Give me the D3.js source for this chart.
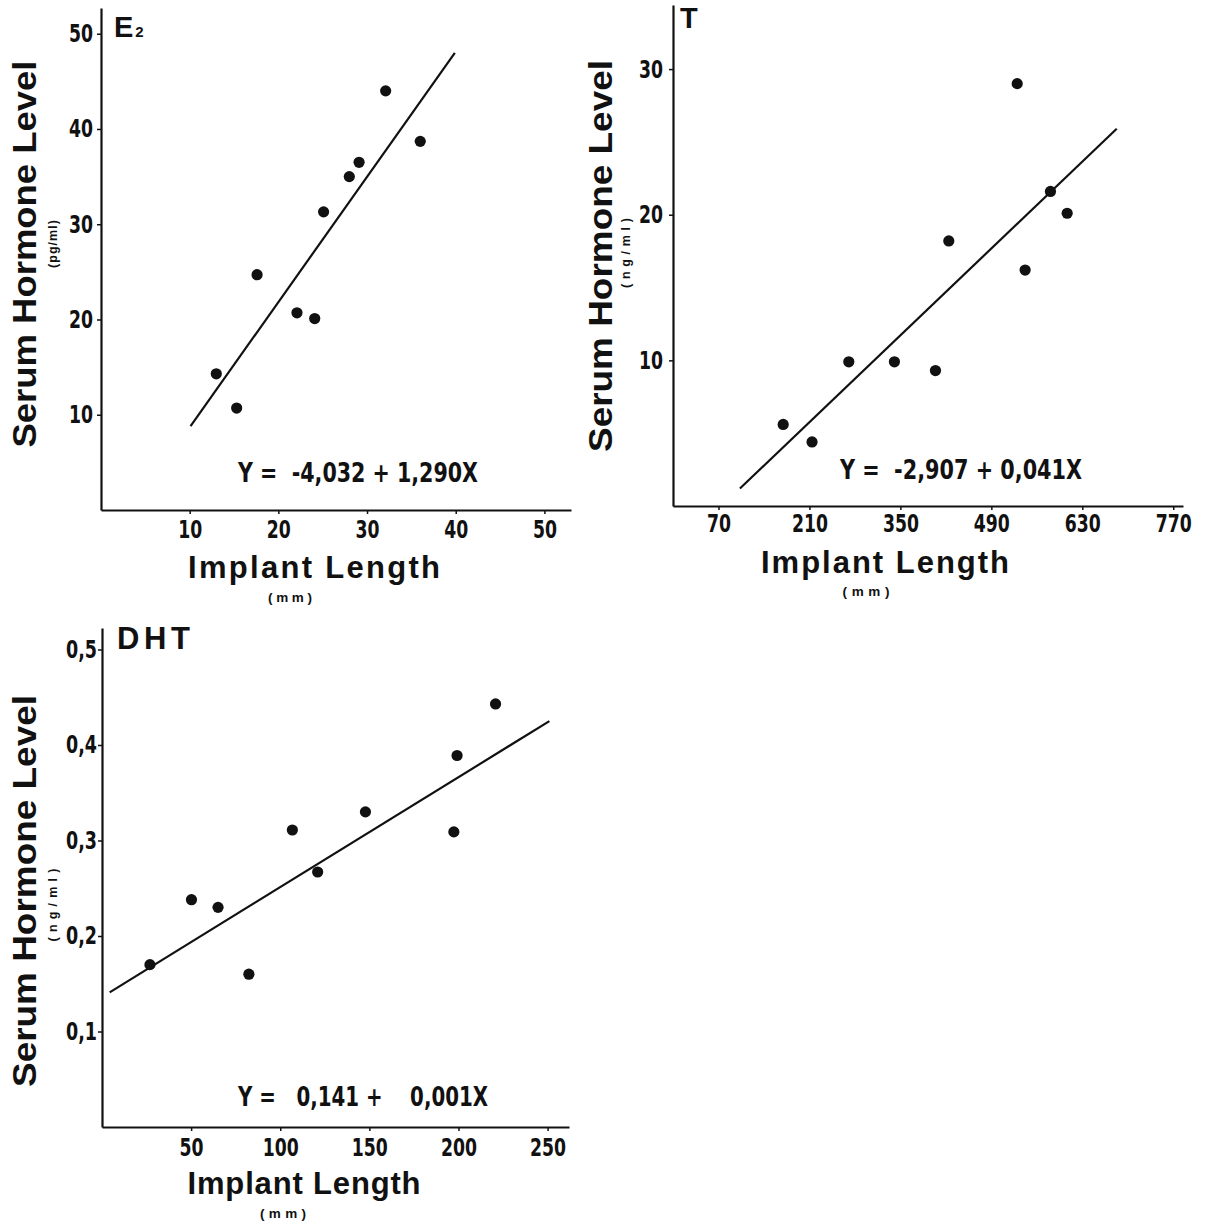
<!DOCTYPE html>
<html>
<head>
<meta charset="utf-8">
<script src="https://cdn.jsdelivr.net/npm/d3@7"></script>
<style>
  body { margin: 0; background: #fff; }
  svg { display: block; }
  .tick text { font-family: "Liberation Sans Narrow", "Arial Narrow", "DejaVu Sans Condensed", sans-serif; font-weight: bold; font-size: 25px; fill: #111; }
  .lbl { font-family: "Liberation Sans", Arial, sans-serif; font-weight: bold; fill: #111; }
  .eq { font-family: "Liberation Sans Narrow", "Arial Narrow", "DejaVu Sans Condensed", sans-serif; font-weight: bold; fill: #111; white-space: pre; }
</style>
</head>
<body>
<div id="chart"></div>
<script>
// E2 panel (pg/ml vs mm)
const e2Length = [13.0, 15.3, 17.6, 22.1, 24.1, 25.1, 28.0, 29.1, 32.1, 36.0];
const e2Level  = [14.3, 10.7, 24.7, 20.7, 20.1, 31.3, 35.0, 36.5, 44.0, 38.7];
const e2Fit = [[10.1, 8.8], [39.9, 48.0]];
const e2XTicks = [10, 20, 30, 40, 50];
const e2YTicks = [10, 20, 30, 40, 50];
const e2Eq = "Y =  -4,032 + 1,290X";

// T panel (ng/ml vs mm)
const tLength = [169.6, 214, 270.6, 340.8, 404, 424.5, 529.8, 542, 581, 606.7];
const tLevel  = [5.6, 4.4, 9.9, 9.9, 9.3, 18.2, 29.0, 16.2, 21.6, 20.1];
const tFit = [[103, 1.2], [683, 25.9]];
const tXTicks = [70, 210, 350, 490, 630, 770];
const tYTicks = [10, 20, 30];
const tEq = "Y =  -2,907 + 0,041X";

// DHT panel (ng/ml vs mm)
const dhtLength = [26.9, 50.2, 65.1, 82.4, 106.8, 121.0, 147.8, 197.4, 199.2, 220.8];
const dhtLevel  = [0.170, 0.238, 0.230, 0.160, 0.311, 0.267, 0.330, 0.309, 0.389, 0.443];
const dhtFit = [[4.3, 0.141], [251, 0.425]];
const dhtXTicks = [50, 100, 150, 200, 250];
const dhtYTicks = [0.1, 0.2, 0.3, 0.4, 0.5];
const dhtEq = "Y =   0,141 +    0,001X";

const comma = d => String(d).replace(".", ",");

const svg = d3.select("#chart").append("svg")
  .attr("width", 1207)
  .attr("height", 1225);

// squeeze tick labels to the condensed look of the original
function narrow(sel) {
  sel.selectAll(".tick text").each(function () {
    const s = this.textContent;
    const w = [...s].reduce((a, c) => a + (c === "," ? 7 : 12), 0);
    d3.select(this).attr("textLength", w).attr("lengthAdjust", "spacingAndGlyphs");
  });
}

function drawPanel(p) {
  const x = d3.scaleLinear().domain(p.xDomain).range(p.xRange);
  const y = d3.scaleLinear().domain(p.yDomain).range(p.yRange);
  const g = svg.append("g");

  const xAxis = g.append("g")
    .attr("transform", `translate(0,${p.yRange[0]})`)
    .call(d3.axisBottom(x).tickValues(p.xTicks).tickSize(4).tickSizeOuter(0)
      .tickPadding(p.xPad).tickFormat(comma));
  const yAxis = g.append("g")
    .attr("transform", `translate(${p.xRange[0]},0)`)
    .call(d3.axisLeft(y).tickValues(p.yTicks).tickSize(4).tickSizeOuter(0)
      .tickPadding(p.yPad).tickFormat(comma));
  [xAxis, yAxis].forEach(a => {
    a.select(".domain").attr("stroke", "#111").attr("stroke-width", 2.2);
    a.selectAll(".tick line").attr("stroke", "#111").attr("stroke-width", 1.5);
    narrow(a);
  });

  // regression line
  g.append("line")
    .attr("x1", x(p.fit[0][0])).attr("y1", y(p.fit[0][1]))
    .attr("x2", x(p.fit[1][0])).attr("y2", y(p.fit[1][1]))
    .attr("stroke", "#111").attr("stroke-width", 2.2);

  g.append("g").selectAll("circle")
    .data(p.xs.map((v, i) => [v, p.ys[i]]))
    .join("circle")
    .attr("cx", d => x(d[0]))
    .attr("cy", d => y(d[1]))
    .attr("r", 5.6)
    .attr("fill", "#111");

  // texts
  const t = p.text;
  g.append("text").attr("class", "lbl")
    .attr("transform", `translate(${t.yLab[0]},${t.yLab[1]}) rotate(-90)`)
    .attr("text-anchor", "middle")
    .attr("font-size", 33)
    .attr("textLength", t.yLab[2]).attr("lengthAdjust", "spacingAndGlyphs")
    .text("Serum Hormone Level");
  g.append("text").attr("class", "lbl")
    .attr("transform", `translate(${t.unit[0]},${t.unit[1]}) rotate(-90)`)
    .attr("text-anchor", "middle")
    .attr("font-size", 12.5)
    .attr("textLength", t.unit[2]).attr("lengthAdjust", "spacing")
    .text(p.unit);
  g.append("text").attr("class", "lbl")
    .attr("x", t.xLab[0]).attr("y", t.xLab[1])
    .attr("text-anchor", "middle")
    .attr("font-size", 31)
    .attr("textLength", t.xLab[2]).attr("lengthAdjust", "spacing")
    .text("Implant Length");
  g.append("text").attr("class", "lbl")
    .attr("x", t.mm[0]).attr("y", t.mm[1])
    .attr("text-anchor", "middle")
    .attr("font-size", 13.5)
    .attr("textLength", t.mm[2]).attr("lengthAdjust", "spacing")
    .text("(mm)");
  g.append("text").attr("class", "eq")
    .attr("x", t.eq[0]).attr("y", t.eq[1])
    .attr("font-size", 26)
    .attr("textLength", t.eq[2]).attr("lengthAdjust", "spacingAndGlyphs")
    .text(p.eq);
  const title = g.append("text").attr("class", "lbl")
    .attr("x", t.title[0]).attr("y", t.title[1])
    .attr("font-size", t.title[2]);
  title.append("tspan").text(p.title);
  if (p.sub) {
    title.append("tspan").attr("font-size", 15).attr("dx", 2).text(p.sub);
  }
  if (t.title[3]) title.attr("textLength", t.title[3]).attr("lengthAdjust", "spacing");
}

drawPanel({
  xs: e2Length, ys: e2Level, fit: e2Fit, xTicks: e2XTicks, yTicks: e2YTicks, eq: e2Eq,
  xDomain: [0, 53], xRange: [101, 571], yDomain: [0, 52.7], yRange: [510, 8],
  xPad: 6, yPad: 4, unit: "(pg/ml)", title: "E", sub: "2",
  text: { yLab: [36, 254, 387], unit: [57, 244, 48], xLab: [314, 578, 252],
          mm: [290, 602, 44], eq: [238, 482, 240], title: [114, 37, 29] }
});

drawPanel({
  xs: tLength, ys: tLevel, fit: tFit, xTicks: tXTicks, yTicks: tYTicks, eq: tEq,
  xDomain: [0, 785], xRange: [673, 1183], yDomain: [0, 34.4], yRange: [506, 5],
  xPad: 4, yPad: 6, unit: "(ng/ml)", title: "T",
  text: { yLab: [612, 256, 392], unit: [630, 253, 70], xLab: [885, 573, 248],
          mm: [866, 596, 47], eq: [840, 479, 242], title: [680, 28, 29] }
});

drawPanel({
  xs: dhtLength, ys: dhtLevel, fit: dhtFit, xTicks: dhtXTicks, yTicks: dhtYTicks, eq: dhtEq,
  xDomain: [0, 262], xRange: [102, 569], yDomain: [0, 0.5225], yRange: [1127, 628],
  xPad: 7, yPad: 1, unit: "(ng/ml)", title: "DHT",
  text: { yLab: [36, 891, 392], unit: [57, 905, 73], xLab: [304, 1194, 233],
          mm: [283, 1218, 46], eq: [238, 1106, 250], title: [117, 649, 31, 73] }
});
</script>
</body>
</html>
